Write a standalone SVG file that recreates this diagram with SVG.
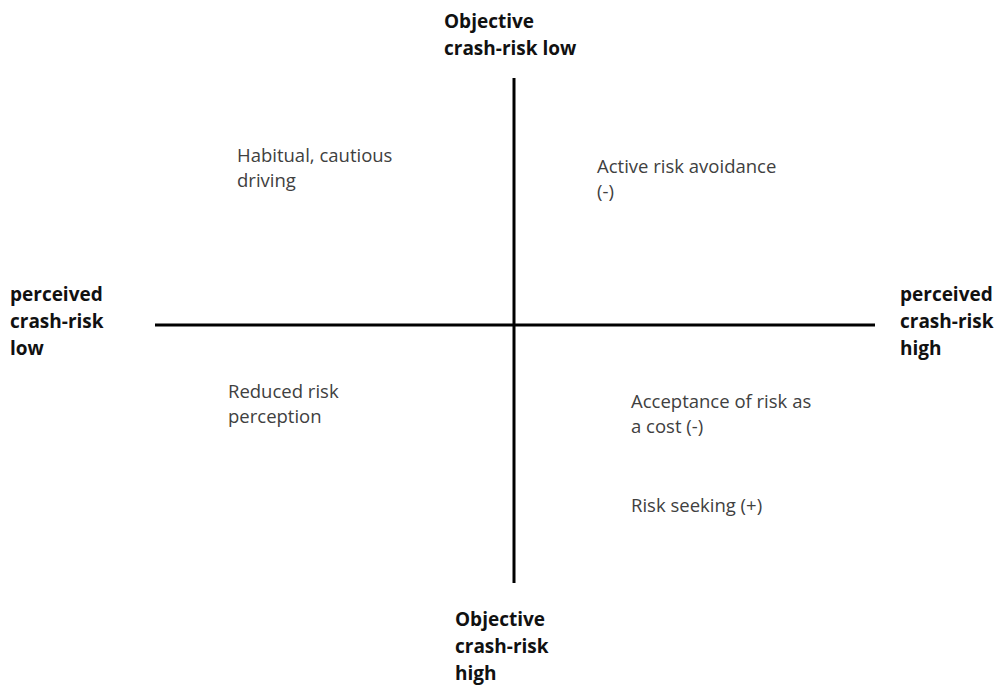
<svg xmlns="http://www.w3.org/2000/svg" width="999" height="689" viewBox="0 0 999 689">
<style>
.axis{stroke:#000;stroke-width:3;fill:none}
.lbl{font-family:"Open Sans","Noto Sans",sans-serif;font-size:19px;font-weight:bold;fill:#111}
.q{font-family:"Open Sans","Noto Sans",sans-serif;font-size:18.5px;fill:#404040}
</style>
<rect width="999" height="689" fill="#fff"/>
<g id="connectors">
<line class="axis" x1="514" y1="78" x2="514" y2="583"/>
<line class="axis" x1="155" y1="325" x2="875" y2="325"/>
</g>
<g id="top-label"><text class="lbl" x="444" y="28">Objective</text><text class="lbl" x="444" y="55">crash-risk low</text></g>
<g id="bottom-label"><text class="lbl" x="455" y="626">Objective</text><text class="lbl" x="455" y="653">crash-risk</text><text class="lbl" x="455" y="680">high</text></g>
<g id="left-label"><text class="lbl" x="10" y="301">perceived</text><text class="lbl" x="10" y="328">crash-risk</text><text class="lbl" x="10" y="355">low</text></g>
<g id="right-label"><text class="lbl" x="900" y="301">perceived</text><text class="lbl" x="900" y="328">crash-risk</text><text class="lbl" x="900" y="355">high</text></g>
<g id="q-habitual"><text class="q" x="237" y="162">Habitual, cautious</text><text class="q" x="237" y="187">driving</text></g>
<g id="q-active"><text class="q" x="597" y="173">Active risk avoidance</text><text class="q" x="597" y="198">(-)</text></g>
<g id="q-reduced"><text class="q" x="228" y="398">Reduced risk</text><text class="q" x="228" y="423">perception</text></g>
<g id="q-acceptance"><text class="q" x="631" y="408">Acceptance of risk as</text><text class="q" x="631" y="433">a cost (-)</text></g>
<g id="q-seeking"><text class="q" x="631" y="512">Risk seeking (+)</text></g>
</svg>
